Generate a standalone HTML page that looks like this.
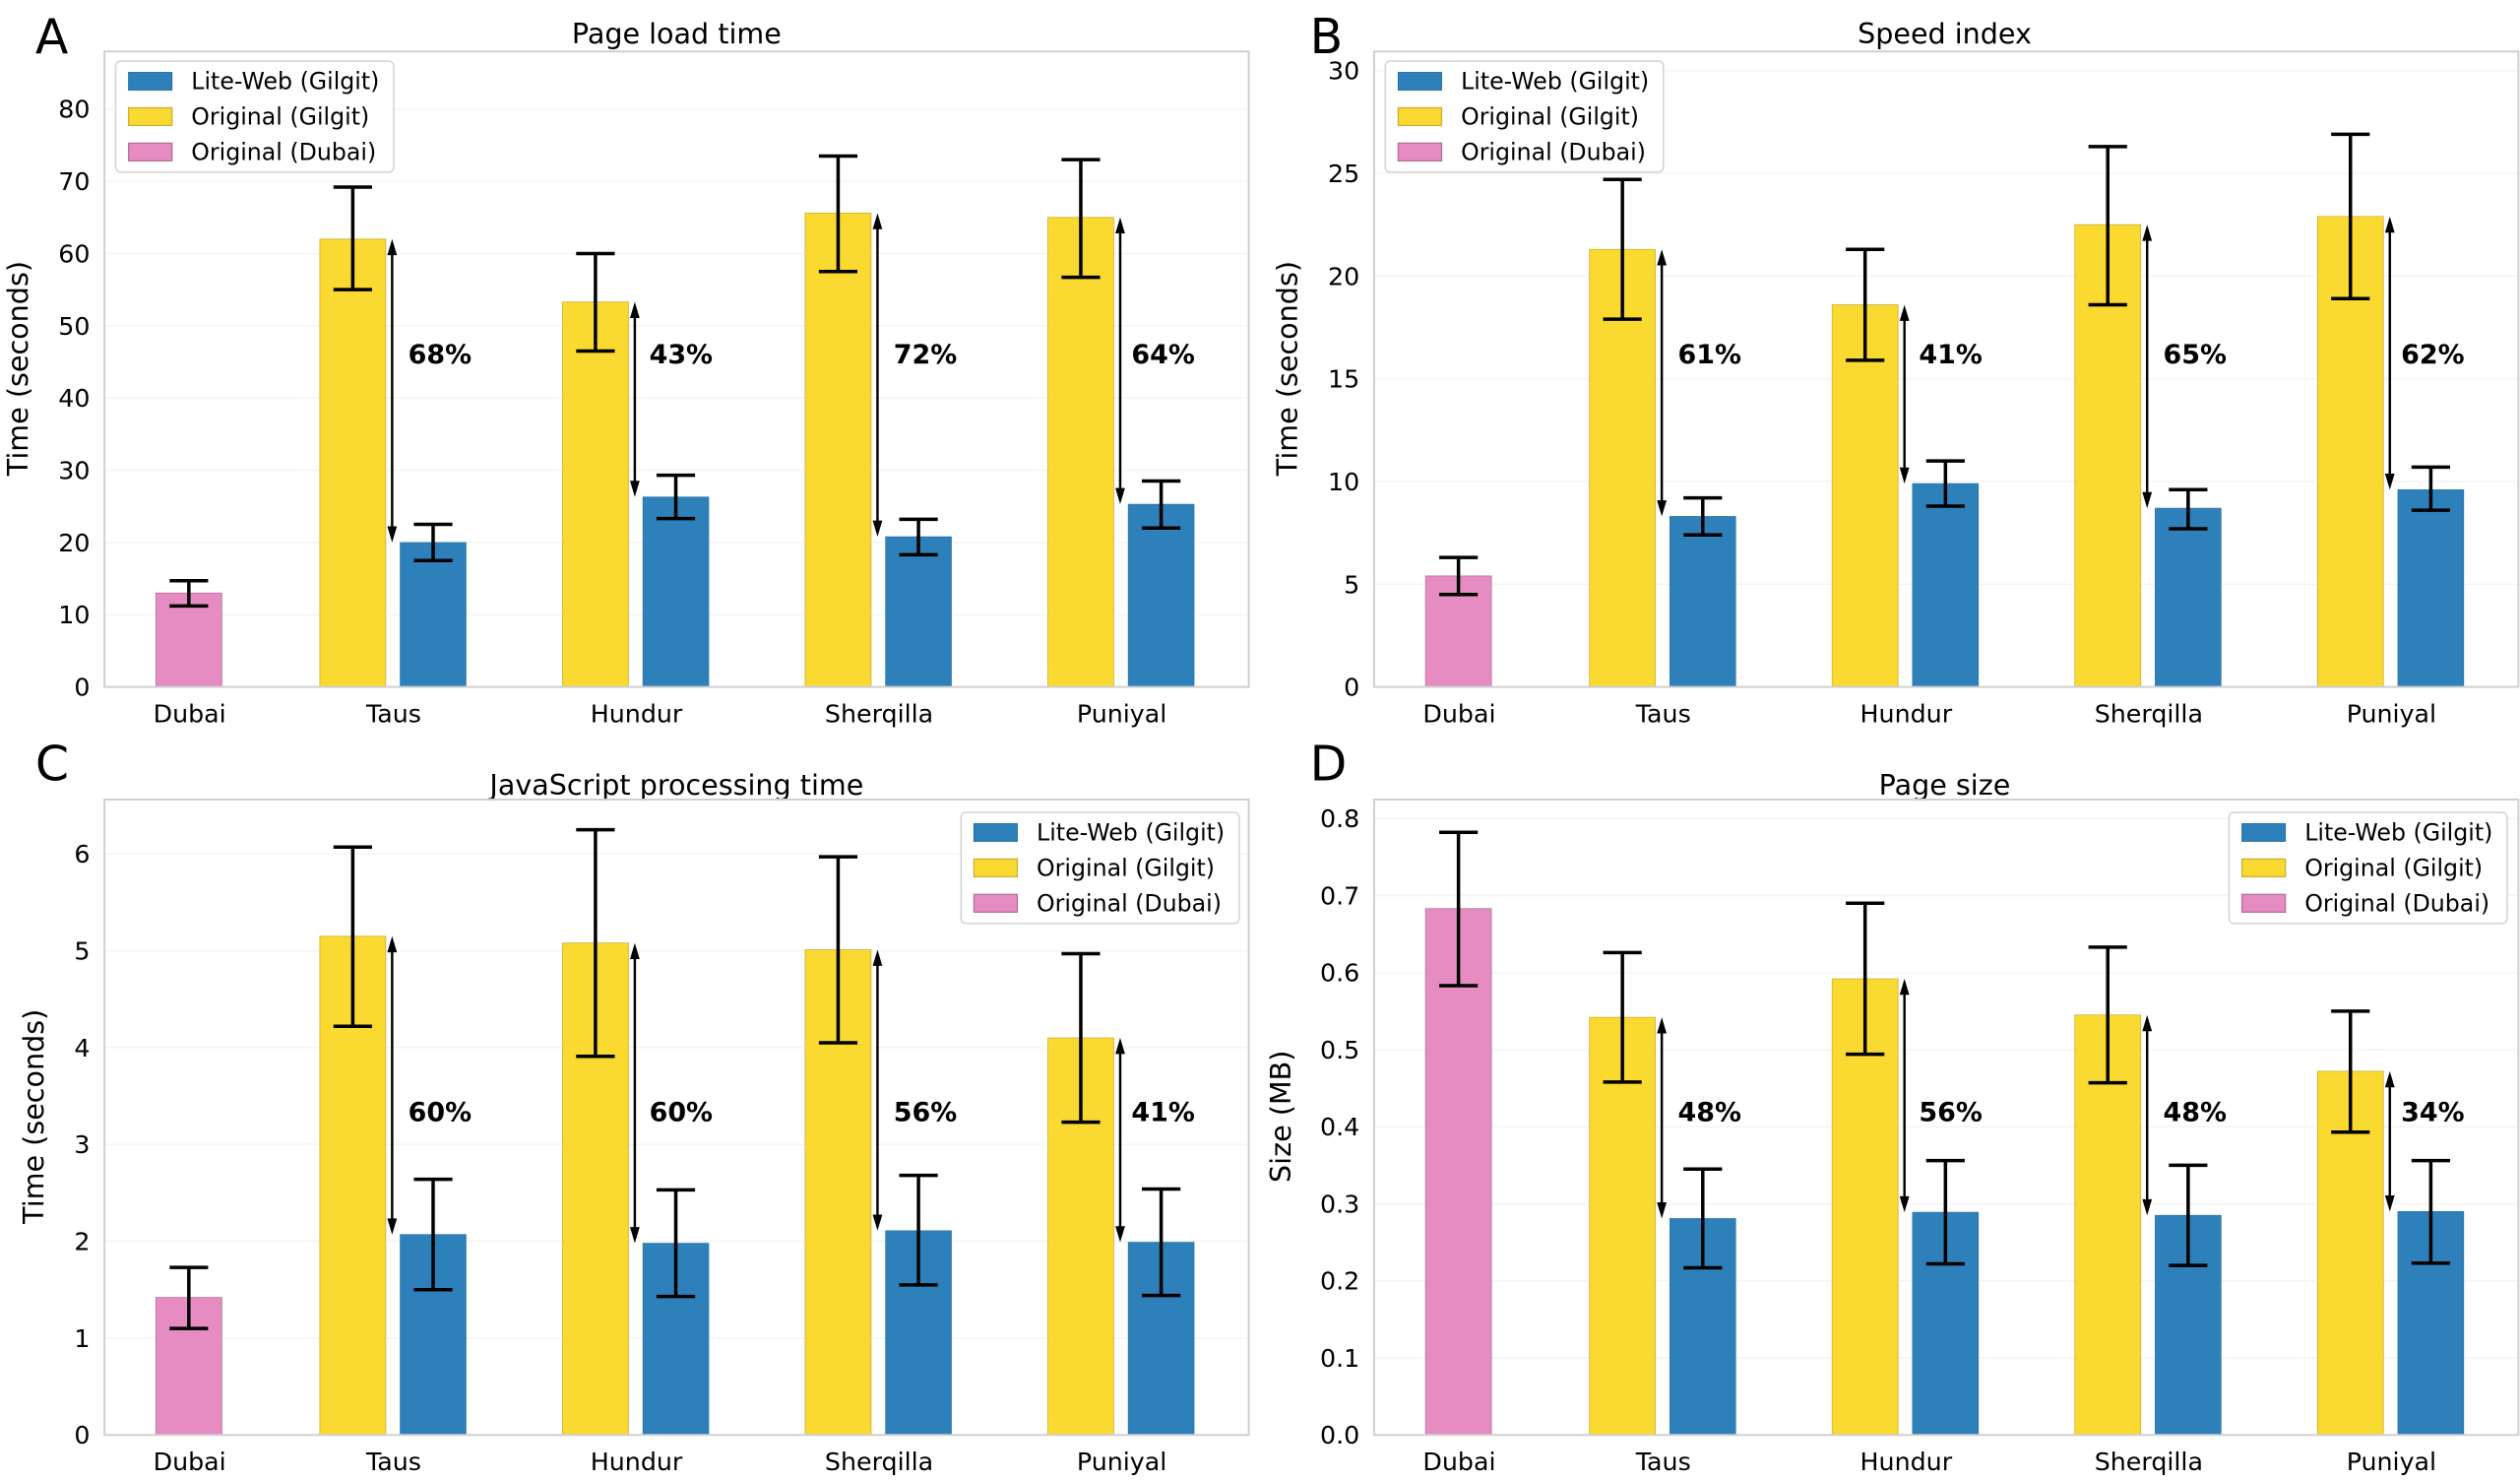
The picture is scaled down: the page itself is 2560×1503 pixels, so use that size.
<!DOCTYPE html>
<html><head><meta charset="utf-8"><style>
html,body{margin:0;padding:0;background:#fff;}
svg{display:block;}
text{font-family:"DejaVu Sans","Liberation Sans",sans-serif;fill:#000;}
.t{font-size:15.5px;}
.tt{font-size:17.5px;}
.lg{font-size:14.5px;}
.pc{font-size:16.5px;font-weight:bold;}
.L{font-size:30px;}
.ax{fill:none;stroke:#cfcfcf;stroke-width:1.2;}
.gr{stroke:#f5f5f5;stroke-width:1;}
.y{fill:#fad930;stroke:#c9b03a;stroke-width:0.8;}
.b{fill:#2e80ba;stroke:#2a6f9f;stroke-width:0.6;}
.p{fill:#e68cc3;stroke:#b07295;stroke-width:0.8;}
.e{fill:none;stroke:#000;stroke-width:3.5;}
.ar{stroke:#000;stroke-width:1.5;}
.lb{fill:#fff;stroke:#d6d6d6;stroke-width:1;}
</style></head><body>
<svg width="2560" height="1503" viewBox="0 0 1568 920" preserveAspectRatio="none" xmlns="http://www.w3.org/2000/svg">
<defs>
<g id="legend">
<rect class="lb" x="0" y="0" width="173" height="69" rx="3"/>
<rect class="b" x="8" y="7" width="27" height="11"/>
<rect class="y" x="8" y="29" width="27" height="11"/>
<rect class="p" x="8" y="51" width="27" height="11"/>
<text class="lg" x="47" y="17.5">Lite-Web (Gilgit)</text>
<text class="lg" x="47" y="39.5">Original (Gilgit)</text>
<text class="lg" x="47" y="61.5">Original (Dubai)</text>
</g>
<g id="xl">
<text class="t" x="118" y="449" text-anchor="middle">Dubai</text>
<text class="t" x="245" y="449" text-anchor="middle">Taus</text>
<text class="t" x="396" y="449" text-anchor="middle">Hundur</text>
<text class="t" x="547" y="449" text-anchor="middle">Sherqilla</text>
<text class="t" x="698" y="449" text-anchor="middle">Puniyal</text>
</g>
</defs>

<!-- Panel A -->
<g>
<text class="L" x="22" y="33">A</text>
<text class="tt" x="421" y="27" text-anchor="middle">Page load time</text>
<g class="gr"><line x1="65" x2="777" y1="382.1" y2="382.1"/><line x1="65" x2="777" y1="337.2" y2="337.2"/><line x1="65" x2="777" y1="292.3" y2="292.3"/><line x1="65" x2="777" y1="247.4" y2="247.4"/><line x1="65" x2="777" y1="202.5" y2="202.5"/><line x1="65" x2="777" y1="157.6" y2="157.6"/><line x1="65" x2="777" y1="112.7" y2="112.7"/><line x1="65" x2="777" y1="67.8" y2="67.8"/></g>
<g class="t" text-anchor="end">
<text x="56" y="432.5">0</text><text x="56" y="387.6">10</text><text x="56" y="342.7">20</text><text x="56" y="297.8">30</text><text x="56" y="252.9">40</text><text x="56" y="208">50</text><text x="56" y="163.1">60</text><text x="56" y="118.2">70</text><text x="56" y="73.3">80</text>
</g>
<text class="tt" transform="translate(17,229) rotate(-90)" text-anchor="middle">Time (seconds)</text>
<g transform="translate(0,427) scale(1,-4.49)">
<rect class="p" x="97" y="0" width="41" height="13" vector-effect="non-scaling-stroke"/>
<rect class="y" x="199" y="0" width="41" height="62" vector-effect="non-scaling-stroke"/>
<rect class="b" x="249" y="0" width="41" height="20" vector-effect="non-scaling-stroke"/>
<rect class="y" x="350" y="0" width="41" height="53.3" vector-effect="non-scaling-stroke"/>
<rect class="b" x="400" y="0" width="41" height="26.3" vector-effect="non-scaling-stroke"/>
<rect class="y" x="501" y="0" width="41" height="65.6" vector-effect="non-scaling-stroke"/>
<rect class="b" x="551" y="0" width="41" height="20.8" vector-effect="non-scaling-stroke"/>
<rect class="y" x="652" y="0" width="41" height="65" vector-effect="non-scaling-stroke"/>
<rect class="b" x="702" y="0" width="41" height="25.3" vector-effect="non-scaling-stroke"/>
<path class="e" vector-effect="non-scaling-stroke" d="M117.5 11.2V14.7M105.5 11.2H129.5M105.5 14.7H129.5
M219.5 55V69.2M207.5 55H231.5M207.5 69.2H231.5
M269.5 17.5V22.5M257.5 17.5H281.5M257.5 22.5H281.5
M370.5 46.5V60M358.5 46.5H382.5M358.5 60H382.5
M420.5 23.3V29.3M408.5 23.3H432.5M408.5 29.3H432.5
M521.5 57.5V73.5M509.5 57.5H533.5M509.5 73.5H533.5
M571.5 18.3V23.2M559.5 18.3H583.5M559.5 23.2H583.5
M672.5 56.7V73M660.5 56.7H684.5M660.5 73H684.5
M722.5 22V28.5M710.5 22H734.5M710.5 28.5H734.5"/>
</g>
<g class="ar">
<line x1="244" x2="244" y1="152" y2="334"/><line x1="395" x2="395" y1="191" y2="306"/><line x1="546" x2="546" y1="136" y2="330"/><line x1="697" x2="697" y1="138" y2="310"/>
</g>
<g>
<path d="M244 148.6l-3 10h6zM244 337.2l-3-10h6z"/>
<path d="M395 187.7l-3 10h6zM395 308.9l-3-10h6z"/>
<path d="M546 132.5l-3 10h6zM546 333.6l-3-10h6z"/>
<path d="M697 135.1l-3 10h6zM697 313.4l-3-10h6z"/>
</g>
<text class="pc" x="254" y="226">68%</text><text class="pc" x="404" y="226">43%</text><text class="pc" x="556" y="226">72%</text><text class="pc" x="704" y="226">64%</text>
<rect class="ax" x="65" y="32" width="712" height="395"/>
<use href="#legend" x="72" y="38"/>
<use href="#xl"/>
</g>

<!-- Panel B -->
<g transform="translate(790,0)">
<text class="L" x="25" y="33">B</text>
<text class="tt" x="420" y="27" text-anchor="middle">Speed index</text>
<g class="gr"><line x1="65" x2="777" y1="363.2" y2="363.2"/><line x1="65" x2="777" y1="299.3" y2="299.3"/><line x1="65" x2="777" y1="235.5" y2="235.5"/><line x1="65" x2="777" y1="171.6" y2="171.6"/><line x1="65" x2="777" y1="107.8" y2="107.8"/><line x1="65" x2="777" y1="43.9" y2="43.9"/></g>
<g class="t" text-anchor="end">
<text x="56" y="432.5">0</text><text x="56" y="368.7">5</text><text x="56" y="304.8">10</text><text x="56" y="241">15</text><text x="56" y="177.1">20</text><text x="56" y="113.3">25</text><text x="56" y="49.4">30</text>
</g>
<text class="tt" transform="translate(17,229) rotate(-90)" text-anchor="middle">Time (seconds)</text>
<g transform="translate(0,427) scale(1,-12.77)">
<rect class="p" x="97" y="0" width="41" height="5.4" vector-effect="non-scaling-stroke"/>
<rect class="y" x="199" y="0" width="41" height="21.3" vector-effect="non-scaling-stroke"/>
<rect class="b" x="249" y="0" width="41" height="8.3" vector-effect="non-scaling-stroke"/>
<rect class="y" x="350" y="0" width="41" height="18.6" vector-effect="non-scaling-stroke"/>
<rect class="b" x="400" y="0" width="41" height="9.9" vector-effect="non-scaling-stroke"/>
<rect class="y" x="501" y="0" width="41" height="22.5" vector-effect="non-scaling-stroke"/>
<rect class="b" x="551" y="0" width="41" height="8.7" vector-effect="non-scaling-stroke"/>
<rect class="y" x="652" y="0" width="41" height="22.9" vector-effect="non-scaling-stroke"/>
<rect class="b" x="702" y="0" width="41" height="9.6" vector-effect="non-scaling-stroke"/>
<path class="e" vector-effect="non-scaling-stroke" d="M117.5 4.5V6.3M105.5 4.5H129.5M105.5 6.3H129.5
M219.5 17.9V24.7M207.5 17.9H231.5M207.5 24.7H231.5
M269.5 7.4V9.2M257.5 7.4H281.5M257.5 9.2H281.5
M370.5 15.9V21.3M358.5 15.9H382.5M358.5 21.3H382.5
M420.5 8.8V11M408.5 8.8H432.5M408.5 11H432.5
M521.5 18.6V26.3M509.5 18.6H533.5M509.5 26.3H533.5
M571.5 7.7V9.6M559.5 7.7H583.5M559.5 9.6H583.5
M672.5 18.9V26.9M660.5 18.9H684.5M660.5 26.9H684.5
M722.5 8.6V10.7M710.5 8.6H734.5M710.5 10.7H734.5"/>
</g>
<g class="ar">
<line x1="244" x2="244" y1="158" y2="318"/><line x1="395" x2="395" y1="192" y2="298"/><line x1="546" x2="546" y1="143" y2="313"/><line x1="697" x2="697" y1="138" y2="302"/>
</g>
<g>
<path d="M244 155l-3 10h6zM244 321l-3-10h6z"/>
<path d="M395 189.5l-3 10h6zM395 300.6l-3-10h6z"/>
<path d="M546 139.7l-3 10h6zM546 315.9l-3-10h6z"/>
<path d="M697 134.6l-3 10h6zM697 304.4l-3-10h6z"/>
</g>
<text class="pc" x="254" y="226">61%</text><text class="pc" x="404" y="226">41%</text><text class="pc" x="556" y="226">65%</text><text class="pc" x="704" y="226">62%</text>
<rect class="ax" x="65" y="32" width="712" height="395"/>
<use href="#legend" x="72" y="38"/>
<use href="#xl"/>
</g>

<!-- Panel C -->
<g transform="translate(0,465)">
<text class="L" x="22" y="20">C</text>
<text class="tt" x="421" y="29" text-anchor="middle">JavaScript processing time</text>
<g class="gr"><line x1="65" x2="777" y1="366.8" y2="366.8"/><line x1="65" x2="777" y1="306.6" y2="306.6"/><line x1="65" x2="777" y1="246.4" y2="246.4"/><line x1="65" x2="777" y1="186.2" y2="186.2"/><line x1="65" x2="777" y1="126" y2="126"/><line x1="65" x2="777" y1="65.8" y2="65.8"/></g>
<g class="t" text-anchor="end">
<text x="56" y="432.5">0</text><text x="56" y="372.3">1</text><text x="56" y="312.1">2</text><text x="56" y="251.9">3</text><text x="56" y="191.7">4</text><text x="56" y="131.5">5</text><text x="56" y="71.3">6</text>
</g>
<text class="tt" transform="translate(27,229) rotate(-90)" text-anchor="middle">Time (seconds)</text>
<g transform="translate(0,427) scale(1,-60.2)">
<rect class="p" x="97" y="0" width="41" height="1.42" vector-effect="non-scaling-stroke"/>
<rect class="y" x="199" y="0" width="41" height="5.15" vector-effect="non-scaling-stroke"/>
<rect class="b" x="249" y="0" width="41" height="2.07" vector-effect="non-scaling-stroke"/>
<rect class="y" x="350" y="0" width="41" height="5.08" vector-effect="non-scaling-stroke"/>
<rect class="b" x="400" y="0" width="41" height="1.98" vector-effect="non-scaling-stroke"/>
<rect class="y" x="501" y="0" width="41" height="5.01" vector-effect="non-scaling-stroke"/>
<rect class="b" x="551" y="0" width="41" height="2.11" vector-effect="non-scaling-stroke"/>
<rect class="y" x="652" y="0" width="41" height="4.1" vector-effect="non-scaling-stroke"/>
<rect class="b" x="702" y="0" width="41" height="1.99" vector-effect="non-scaling-stroke"/>
<path class="e" vector-effect="non-scaling-stroke" d="M117.5 1.1V1.73M105.5 1.1H129.5M105.5 1.73H129.5
M219.5 4.22V6.07M207.5 4.22H231.5M207.5 6.07H231.5
M269.5 1.5V2.64M257.5 1.5H281.5M257.5 2.64H281.5
M370.5 3.91V6.25M358.5 3.91H382.5M358.5 6.25H382.5
M420.5 1.43V2.53M408.5 1.43H432.5M408.5 2.53H432.5
M521.5 4.05V5.97M509.5 4.05H533.5M509.5 5.97H533.5
M571.5 1.55V2.68M559.5 1.55H583.5M559.5 2.68H583.5
M672.5 3.23V4.97M660.5 3.23H684.5M660.5 4.97H684.5
M722.5 1.44V2.54M710.5 1.44H734.5M710.5 2.54H734.5"/>
</g>
<g class="ar">
<line x1="244" x2="244" y1="120" y2="299"/><line x1="395" x2="395" y1="124" y2="304"/><line x1="546" x2="546" y1="128" y2="297"/><line x1="697" x2="697" y1="183" y2="304"/>
</g>
<g>
<path d="M244 117l-3 10h6zM244 302.4l-3-10h6z"/>
<path d="M395 121.2l-3 10h6zM395 307.8l-3-10h6z"/>
<path d="M546 125.4l-3 10h6zM546 300l-3-10h6z"/>
<path d="M697 180.2l-3 10h6zM697 307.2l-3-10h6z"/>
</g>
<text class="pc" x="254" y="232">60%</text><text class="pc" x="404" y="232">60%</text><text class="pc" x="556" y="232">56%</text><text class="pc" x="704" y="232">41%</text>
<rect class="ax" x="65" y="32" width="712" height="395"/>
<use href="#legend" x="598" y="40"/>
<use href="#xl"/>
</g>

<!-- Panel D -->
<g transform="translate(790,465)">
<text class="L" x="25" y="20">D</text>
<text class="tt" x="420" y="29" text-anchor="middle">Page size</text>
<g class="gr"><line x1="65" x2="777" y1="379.1" y2="379.1"/><line x1="65" x2="777" y1="331.2" y2="331.2"/><line x1="65" x2="777" y1="283.3" y2="283.3"/><line x1="65" x2="777" y1="235.4" y2="235.4"/><line x1="65" x2="777" y1="187.5" y2="187.5"/><line x1="65" x2="777" y1="139.6" y2="139.6"/><line x1="65" x2="777" y1="91.7" y2="91.7"/><line x1="65" x2="777" y1="43.8" y2="43.8"/></g>
<g class="t" text-anchor="end">
<text x="56" y="432.5">0.0</text><text x="56" y="384.6">0.1</text><text x="56" y="336.7">0.2</text><text x="56" y="288.8">0.3</text><text x="56" y="240.9">0.4</text><text x="56" y="193">0.5</text><text x="56" y="145.1">0.6</text><text x="56" y="97.2">0.7</text><text x="56" y="49.3">0.8</text>
</g>
<text class="tt" transform="translate(13,229) rotate(-90)" text-anchor="middle">Size (MB)</text>
<g transform="translate(0,427) scale(1,-479)">
<rect class="p" x="97" y="0" width="41" height="0.683" vector-effect="non-scaling-stroke"/>
<rect class="y" x="199" y="0" width="41" height="0.542" vector-effect="non-scaling-stroke"/>
<rect class="b" x="249" y="0" width="41" height="0.281" vector-effect="non-scaling-stroke"/>
<rect class="y" x="350" y="0" width="41" height="0.592" vector-effect="non-scaling-stroke"/>
<rect class="b" x="400" y="0" width="41" height="0.289" vector-effect="non-scaling-stroke"/>
<rect class="y" x="501" y="0" width="41" height="0.545" vector-effect="non-scaling-stroke"/>
<rect class="b" x="551" y="0" width="41" height="0.285" vector-effect="non-scaling-stroke"/>
<rect class="y" x="652" y="0" width="41" height="0.472" vector-effect="non-scaling-stroke"/>
<rect class="b" x="702" y="0" width="41" height="0.29" vector-effect="non-scaling-stroke"/>
<path class="e" vector-effect="non-scaling-stroke" d="M117.5 0.583V0.782M105.5 0.583H129.5M105.5 0.782H129.5
M219.5 0.458V0.626M207.5 0.458H231.5M207.5 0.626H231.5
M269.5 0.217V0.345M257.5 0.217H281.5M257.5 0.345H281.5
M370.5 0.494V0.69M358.5 0.494H382.5M358.5 0.69H382.5
M420.5 0.222V0.356M408.5 0.222H432.5M408.5 0.356H432.5
M521.5 0.457V0.633M509.5 0.457H533.5M509.5 0.633H533.5
M571.5 0.22V0.35M559.5 0.22H583.5M559.5 0.35H583.5
M672.5 0.393V0.55M660.5 0.393H684.5M660.5 0.55H684.5
M722.5 0.223V0.356M710.5 0.223H734.5M710.5 0.356H734.5"/>
</g>
<g class="ar">
<line x1="244" x2="244" y1="170" y2="289"/><line x1="395" x2="395" y1="146" y2="285"/><line x1="546" x2="546" y1="169" y2="287"/><line x1="697" x2="697" y1="204" y2="285"/>
</g>
<g>
<path d="M244 167.4l-3 10h6zM244 292.4l-3-10h6z"/>
<path d="M395 143.4l-3 10h6zM395 288.6l-3-10h6z"/>
<path d="M546 166l-3 10h6zM546 290.5l-3-10h6z"/>
<path d="M697 200.9l-3 10h6zM697 288.1l-3-10h6z"/>
</g>
<text class="pc" x="254" y="232">48%</text><text class="pc" x="404" y="232">56%</text><text class="pc" x="556" y="232">48%</text><text class="pc" x="704" y="232">34%</text>
<rect class="ax" x="65" y="32" width="712" height="395"/>
<use href="#legend" x="597" y="40"/>
<use href="#xl"/>
</g>
</svg>
</body></html>
